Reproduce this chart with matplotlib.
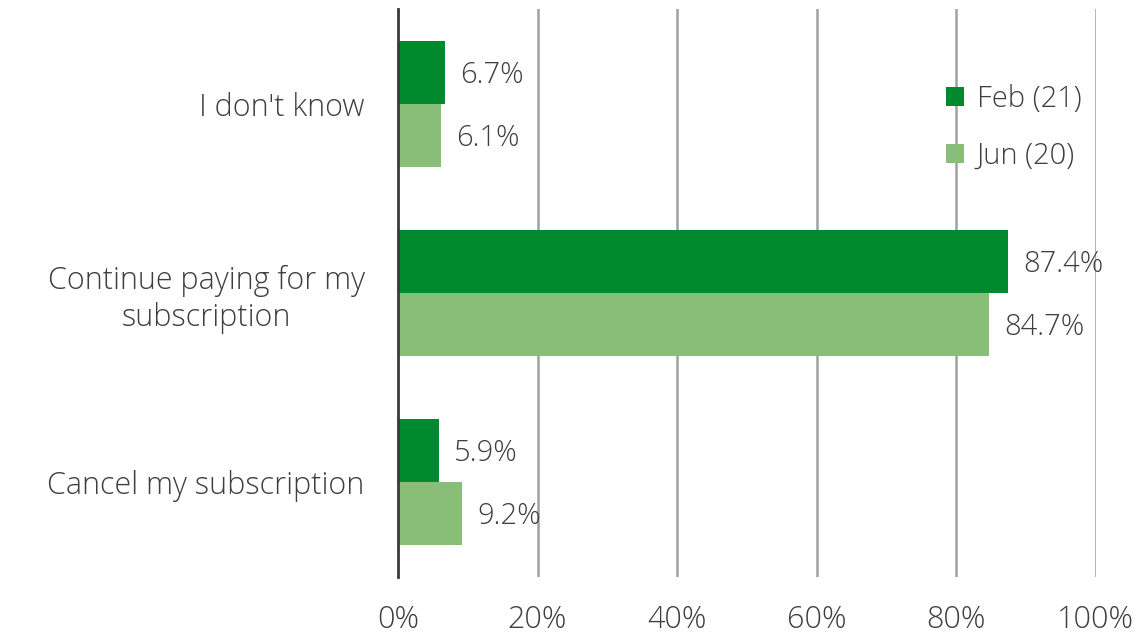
import matplotlib
matplotlib.use("Agg")
import matplotlib.pyplot as plt
import numpy as np

categories = ["Cancel my subscription", "Continue paying for my\nsubscription", "I don't know"]
feb_values = [5.9, 87.4, 6.7]
jun_values = [9.2, 84.7, 6.1]
series_names = ["Feb (21)", "Jun (20)"]
x_ticks = [0, 20, 40, 60, 80, 100]

dark_green = "#00892E"
light_green = "#88BE78"
text_color = "#3F3F3F"

plt.rcParams['font.family'] = ['Open Sans', 'DejaVu Sans']
plt.rcParams['font.weight'] = 'light'

fig = plt.figure(figsize=(11.38, 6.37), dpi=100)
ax = fig.add_axes([0.3497, 0.094, 0.963 - 0.3497, 0.892])

y = np.arange(len(categories))
h = 0.333
b1 = ax.barh(y + h / 2, feb_values, height=h, color=dark_green, label=series_names[0], zorder=3)
b2 = ax.barh(y - h / 2, jun_values, height=h, color=light_green, label=series_names[1], zorder=3)

for bars, vals in [(b1, feb_values), (b2, jun_values)]:
    for bar, v in zip(bars, vals):
        ax.annotate(f"{v}%", (v, bar.get_y() + bar.get_height() / 2),
                    xytext=(11, -2), textcoords="offset points",
                    va="center", ha="left", fontsize=21, color=text_color, zorder=4)

ax.set_xlim(0, 100)
ax.set_ylim(-0.5, 2.5)
ax.set_xticks(x_ticks)
ax.set_xticklabels([f"{t}%" for t in x_ticks])
ax.set_yticks(y)
ax.set_yticklabels(categories, multialignment="center")
ax.tick_params(axis="both", length=0, labelsize=22, labelcolor=text_color)
ax.tick_params(axis="y", pad=24)
ax.tick_params(axis="x", pad=19)

for t in x_ticks[1:]:
    ax.axvline(t, color="#A0A0A0", linewidth=1.8, zorder=1)
for s in ["top", "right", "bottom"]:
    ax.spines[s].set_visible(False)
ax.spines["left"].set_color("#3A3A3A")
ax.spines["left"].set_linewidth(2)
ax.spines["left"].set_zorder(5)

leg = ax.legend(loc="upper right", bbox_to_anchor=(1.0, 0.893), frameon=False,
                fontsize=21, handlelength=0.6, handleheight=0.6,
                handletextpad=0.45, labelspacing=0.95, labelcolor=text_color,
                borderaxespad=0.1)

fig.savefig("out.png", dpi=100)
